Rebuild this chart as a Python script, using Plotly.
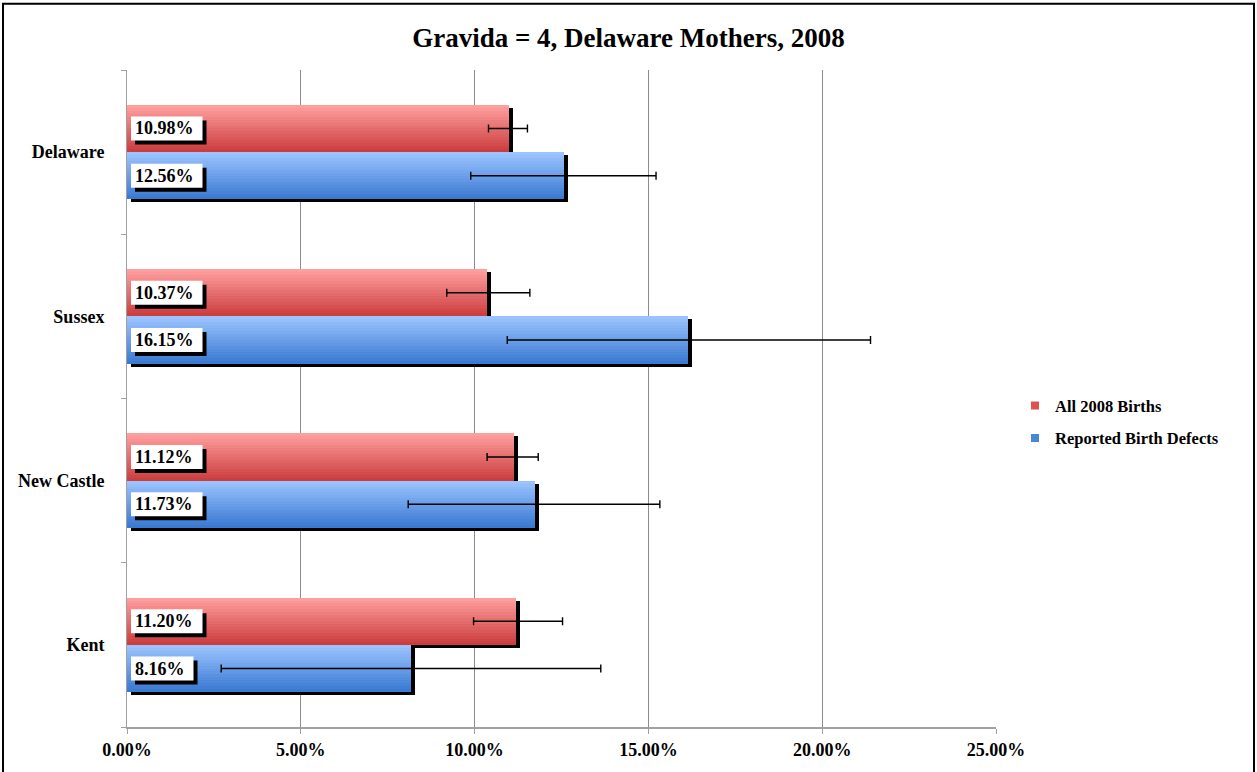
import plotly.graph_objects as go

# ---------------- data ----------------
categories = ["Delaware", "Sussex", "New Castle", "Kent"]
series_names = ["All 2008 Births", "Reported Birth Defects"]
births_vals = [10.98, 10.37, 11.12, 11.20]
births_lo = [10.40, 9.20, 10.36, 9.97]
births_hi = [11.52, 11.59, 11.83, 12.53]
defects_vals = [12.56, 16.15, 11.73, 8.16]
defects_lo = [9.89, 10.94, 8.09, 2.71]
defects_hi = [15.22, 21.39, 15.33, 13.63]
x_ticks = [0, 5, 10, 15, 20, 25]
title_text = "Gravida = 4, Delaware Mothers, 2008"

# ---------------- layout constants ----------------
W_FIG, H_FIG = 1257, 772
L, R, T, B = 127, 261, 70, 37
FONT = "Liberation Serif"
LBL_SIZE = 18
n = len(categories)
pos = [n - 1 - i for i in range(n)]          # Delaware on top
BW = 0.288                                   # bar thickness (axis units)
px_x = (W_FIG - L - R) / 25.0                # px per percent
px_y = (H_FIG - T - B) / n                   # px per category unit
sdx = 4 / px_x                               # shadow offset in data units
sdy = 3 / px_y

series = [
    dict(vals=births_vals, lo=births_lo, hi=births_hi, center=BW / 2,
         top=(255, 158, 158), bot=(204, 62, 62), legend="#E05050"),
    dict(vals=defects_vals, lo=defects_lo, hi=defects_hi, center=-BW / 2,
         top=(155, 195, 255), bot=(58, 122, 210), legend="#4A86D8"),
]

fig = go.Figure()

# shadows
for s in series:
    fig.add_trace(go.Bar(
        y=pos, x=s["vals"], base=[sdx] * n, orientation="h",
        offset=s["center"] - BW / 2 - sdy, width=BW,
        marker=dict(color="black", line=dict(width=0)),
        showlegend=False, hoverinfo="skip"))

# gradient bars (nested strips)
NS = 16
for s in series:
    for i in range(NS):
        t = i / (NS - 1)
        c = tuple(int(round(a + (b - a) * t)) for a, b in zip(s["top"], s["bot"]))
        top_edge = s["center"] + BW / 2 - i * BW / NS
        bottom_edge = s["center"] - BW / 2
        fig.add_trace(go.Bar(
            y=pos, x=s["vals"], orientation="h",
            offset=bottom_edge, width=top_edge - bottom_edge,
            marker=dict(color="rgb(%d,%d,%d)" % c, line=dict(width=0)),
            showlegend=False, hoverinfo="skip"))

# error bars
for s in series:
    fig.add_trace(go.Scatter(
        y=[p + s["center"] for p in pos], x=s["vals"], mode="markers",
        marker=dict(size=1, color="rgba(0,0,0,0)"),
        error_x=dict(type="data", symmetric=False,
                     array=[h - v for h, v in zip(s["hi"], s["vals"])],
                     arrayminus=[v - l for v, l in zip(s["vals"], s["lo"])],
                     color="black", thickness=1.4, width=4),
        showlegend=False, hoverinfo="skip"))

# legend entries
for k, s in enumerate(series):
    fig.add_trace(go.Scatter(
        x=[None], y=[None], mode="markers", name=series_names[k],
        legendgroup=series_names[k],
        marker=dict(symbol="square", size=8, color=s["legend"])))


def text_width(txt, size):
    w = 0.0
    for ch in txt:
        w += {".": 0.25, "%": 1.0}.get(ch, 0.5)
    return w * size


# value labels: shadow box + white box + text
for s in series:
    for p, v in zip(pos, s["vals"]):
        txt = "%.2f%%" % v
        w = text_width(txt, LBL_SIZE) + 13
        yc = p + s["center"]
        fig.add_shape(type="rect", xref="x", yref="y",
                      xsizemode="pixel", ysizemode="pixel",
                      xanchor=0, yanchor=yc, x0=8, x1=8 + w, y0=-16, y1=8,
                      fillcolor="black", line=dict(width=0), layer="above")
        fig.add_shape(type="rect", xref="x", yref="y",
                      xsizemode="pixel", ysizemode="pixel",
                      xanchor=0, yanchor=yc, x0=4, x1=4 + w, y0=-12, y1=12,
                      fillcolor="white", line=dict(width=0), layer="above")
        fig.add_annotation(x=0, y=yc, xref="x", yref="y",
                           text=txt, showarrow=False, xanchor="left",
                           xshift=7, borderpad=0,
                           font=dict(family=FONT, size=LBL_SIZE, color="black",
                                     weight="bold"))

# outer frame (bottom edge lies below the visible page)
fig.add_shape(type="rect", xref="paper", yref="paper",
              x0=(3 - L) / (W_FIG - L - R), x1=(1254 - L) / (W_FIG - L - R),
              y0=(H_FIG - B - 800) / (H_FIG - T - B), y1=(H_FIG - B - 3) / (H_FIG - T - B),
              line=dict(color="black", width=2), layer="above")

fig.update_layout(
    width=W_FIG, height=H_FIG,
    margin=dict(l=L, r=R, t=T, b=B),
    paper_bgcolor="white", plot_bgcolor="white",
    barmode="overlay", bargap=0,
    title=dict(text=title_text, x=0.5, xanchor="center",
               y=1 - 38 / H_FIG, yanchor="middle", yref="container",
               font=dict(family=FONT, size=27, color="black", weight="bold")),
    xaxis=dict(range=[0, 25], tickmode="array", tickvals=x_ticks,
               ticktext=["%.2f%%" % t for t in x_ticks],
               showgrid=True, gridcolor="#8c8c8c", gridwidth=1,
               showline=True, linecolor="#a0a0a0", linewidth=2,
               ticks="outside", ticklen=5, tickcolor="#a0a0a0",
               zeroline=False, fixedrange=True,
               tickfont=dict(family=FONT, size=18, color="black", weight="bold")),
    yaxis=dict(range=[-0.5, n - 0.5], tickmode="array", tickvals=pos,
               ticktext=categories,
               showgrid=False, zeroline=False, showline=True,
               linecolor="#a0a0a0", linewidth=1, ticks="",
               ticklabelstandoff=18, fixedrange=True,
               minor=dict(tickmode="array",
                          tickvals=[p - 0.5 for p in range(n + 1)],
                          ticks="outside", ticklen=5, tickcolor="#a0a0a0"),
               tickfont=dict(family=FONT, size=18, color="black", weight="bold")),
    legend=dict(x=(1015 - L) / (W_FIG - L - R), xanchor="left",
                y=(H_FIG - B - 426) / (H_FIG - T - B), yanchor="middle",
                font=dict(family=FONT, size=16.5, color="black", weight="bold"),
                traceorder="grouped", tracegroupgap=8,
                bgcolor="rgba(0,0,0,0)"),
)

fig.write_html("out.html", config={"displayModeBar": False},
               post_script="document.body.style.margin='0';document.body.style.overflow='hidden';")
